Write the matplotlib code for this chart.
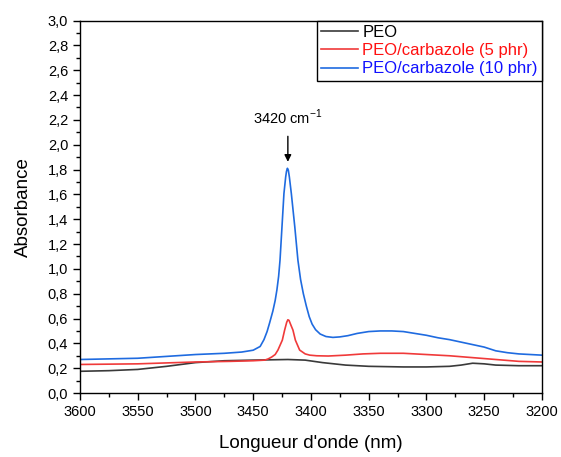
import numpy as np
import matplotlib.pyplot as plt
from matplotlib.ticker import MultipleLocator, FuncFormatter

plt.rcParams['font.family'] = ['Liberation Sans', 'DejaVu Sans']

# Spectra (wavenumber, absorbance)
peo_x = [3600, 3575, 3550, 3525, 3500, 3475, 3450, 3420, 3405, 3390, 3370, 3350,
         3320, 3300, 3280, 3270, 3260, 3250, 3240, 3220, 3200]
peo_y = [0.175, 0.18, 0.19, 0.215, 0.245, 0.26, 0.265, 0.27, 0.265, 0.245, 0.225, 0.215,
         0.21, 0.21, 0.215, 0.225, 0.24, 0.235, 0.225, 0.22, 0.22]

carb5_x = [3600, 3550, 3500, 3470, 3450, 3440, 3437, 3434, 3431, 3428.6, 3424.8,
           3422.8, 3421, 3420, 3419, 3417.5, 3415.6, 3413.5, 3409.8, 3405, 3401,
           3395, 3385, 3370, 3355, 3340, 3320, 3300, 3280, 3260, 3240, 3220, 3200]
carb5_y = [0.23, 0.235, 0.25, 0.255, 0.26, 0.265, 0.275, 0.29, 0.31, 0.346, 0.426,
           0.507, 0.57, 0.59, 0.585, 0.55, 0.507, 0.426, 0.346, 0.315, 0.305,
           0.30, 0.298, 0.305, 0.315, 0.32, 0.32, 0.31, 0.30, 0.285, 0.27, 0.255, 0.25]

carb10_x = [3600, 3575, 3550, 3525, 3500, 3475, 3460, 3450, 3444, 3440.7, 3438,
            3435.8, 3433, 3431, 3429.5, 3428, 3426.8, 3425.1, 3423.4, 3421.9, 3421.2,
            3420.4, 3419.6, 3418.7, 3417, 3414, 3411.3, 3409, 3406.6, 3404, 3401.5,
            3399, 3396, 3392, 3387, 3381, 3375, 3368, 3360, 3350, 3340, 3330, 3320,
            3310, 3300, 3290, 3280, 3270, 3260, 3250, 3240, 3230, 3220, 3210, 3200]
carb10_y = [0.27, 0.275, 0.28, 0.295, 0.31, 0.32, 0.33, 0.345, 0.375, 0.43, 0.495,
            0.565, 0.66, 0.745, 0.83, 0.94, 1.07, 1.338, 1.607, 1.74, 1.785,
            1.81, 1.795, 1.74, 1.607, 1.338, 1.07, 0.915, 0.80, 0.70, 0.615,
            0.555, 0.51, 0.475, 0.455, 0.448, 0.452, 0.462, 0.48, 0.495, 0.50, 0.50, 0.495,
            0.48, 0.465, 0.445, 0.43, 0.41, 0.39, 0.37, 0.34, 0.325, 0.315, 0.31, 0.305]

labels = ['PEO', 'PEO/carbazole (5 phr)', 'PEO/carbazole (10 phr)']

fig = plt.figure(figsize=(5.61, 4.57), dpi=100)
ax = fig.add_axes([0.1426, 0.140, 0.8234, 0.815])

ax.plot(peo_x, peo_y, color='#3a3a3a', lw=1.2, label=labels[0])
ax.plot(carb5_x, carb5_y, color='#f03a3a', lw=1.2, label=labels[1])
ax.plot(carb10_x, carb10_y, color='#1f6be0', lw=1.2, label=labels[2])

ax.set_xlim(3600, 3200)
ax.set_ylim(0, 3.0)
ax.xaxis.set_major_locator(MultipleLocator(50))
ax.xaxis.set_minor_locator(MultipleLocator(25))
ax.yaxis.set_major_locator(MultipleLocator(0.2))
ax.yaxis.set_minor_locator(MultipleLocator(0.1))
ax.yaxis.set_major_formatter(FuncFormatter(lambda v, p: f'{v:.1f}'.replace('.', ',')))
ax.tick_params(which='both', direction='out', labelsize=10.5, width=1)
ax.tick_params(which='major', length=5)
ax.tick_params(which='minor', length=3)
for s in ax.spines.values():
    s.set_linewidth(1)

ax.set_xlabel("Longueur d'onde (nm)", fontsize=13.5, labelpad=12)
ax.set_ylabel('Absorbance', fontsize=13.5, labelpad=11)

# peak annotation
ax.annotate('', xy=(3420, 1.84), xytext=(3420, 2.09),
            arrowprops=dict(arrowstyle='-|>', color='k', lw=1, mutation_scale=10))
ax.text(3420, 2.22, '3420 cm$^{\\mathregular{-1}}$', ha='center', va='center', fontsize=10.5)

leg = ax.legend(loc='upper right', borderaxespad=0, fontsize=12, handlelength=2.2,
                labelspacing=0.2, fancybox=False, edgecolor='black', framealpha=1,
                borderpad=0.25, handletextpad=0.25)
leg.get_frame().set_linewidth(1)
for txt, c in zip(leg.get_texts(), ['black', '#ff1010', '#1010ff']):
    txt.set_color(c)

fig.savefig('out.png', dpi=100)
